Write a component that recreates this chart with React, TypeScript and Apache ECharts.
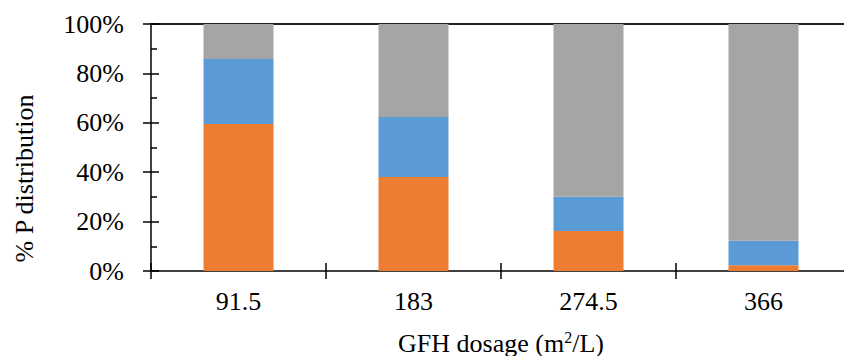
import React, { useEffect, useRef } from "react";
import * as echarts from "echarts";

const categories = ["91.5", "183", "274.5", "366"];
const orangeValues = [59.5, 38.1, 16.2, 2.3];
const blueValues = [26.3, 24.2, 13.9, 9.9];
const grayValues = [14.2, 37.7, 69.9, 87.8];
const yTicks = [0, 20, 40, 60, 80, 100];

const FONT = "Times New Roman";

export default function App() {
  const ref = useRef<HTMLDivElement>(null);
  useEffect(() => {
    if (!ref.current) return;
    const chart = echarts.init(ref.current, undefined, { renderer: "svg" });
    const axisLineStyle = { color: "#000", width: 1.5 };
    const yCommon = {
      type: "value" as const,
      min: yTicks[0],
      max: yTicks[yTicks.length - 1],
      interval: 20,
      position: "left" as const,
      splitLine: { show: false },
    };
    const xCommon = {
      type: "category" as const,
      data: categories,
      boundaryGap: true,
    };
    const txt = { color: "#000", fontFamily: FONT, fontSize: 26 };
    chart.setOption({
      animation: false,
      textStyle: { fontFamily: FONT },
      grid: {
        left: 151,
        right: -7,
        top: 24,
        bottom: 85,
        containLabel: false,
        outerBoundsMode: "none",
      },
      xAxis: [
        {
          ...xCommon,
          position: "bottom",
          axisLine: { show: true, lineStyle: axisLineStyle },
          axisTick: { show: true, length: 8, lineStyle: { color: "#000", width: 1.5 } },
          axisLabel: { ...txt, margin: 17 },
          name: "GFH dosage (m{sup|2}/L)",
          nameLocation: "middle",
          nameGap: 58,
          nameTextStyle: {
            ...txt,
            rich: {
              sup: { fontFamily: FONT, fontSize: 16, color: "#000", verticalAlign: "top", padding: [0, 0, 12, 0] },
            },
          },
        },
        {
          ...xCommon,
          position: "bottom",
          axisLine: { show: false },
          axisTick: { show: true, inside: true, length: 8, lineStyle: { color: "#000", width: 1.5 } },
          axisLabel: { show: false },
        },
        {
          ...xCommon,
          position: "top",
          axisLine: { show: true, lineStyle: { color: "#222", width: 2 } },
          axisTick: { show: false },
          axisLabel: { show: false },
        },
      ],
      yAxis: [
        {
          ...yCommon,
          axisLine: { show: true, lineStyle: axisLineStyle },
          axisTick: { show: true, length: 8, lineStyle: { color: "#000", width: 1.5 } },
          axisLabel: {
            ...txt,
            margin: 27,
            formatter: (v: number) => `${v}%`,
          },
          name: "% P distribution",
          nameLocation: "middle",
          nameGap: 114,
          nameRotate: 90,
          nameTextStyle: { ...txt, padding: [0, 62, 0, 0] },
        },
        {
          ...yCommon,
          axisLine: { show: false },
          axisTick: { show: true, inside: true, length: 8, lineStyle: { color: "#000", width: 1.5 } },
          minorTick: { show: true, splitNumber: 2, length: 6, lineStyle: { color: "#000", width: 1.5 } },
          axisLabel: { show: false },
        },
      ],
      series: [
        { type: "bar", stack: "p", data: orangeValues, barWidth: 70, itemStyle: { color: "#ED7D31" } },
        { type: "bar", stack: "p", data: blueValues, barWidth: 70, itemStyle: { color: "#5B9BD5" } },
        { type: "bar", stack: "p", data: grayValues, barWidth: 70, itemStyle: { color: "#A5A5A5" } },
      ],
    });
    return () => chart.dispose();
  }, []);
  return <div ref={ref} style={{ width: 844, height: 356, position: "absolute", left: 0, top: 0 }} />;
}
